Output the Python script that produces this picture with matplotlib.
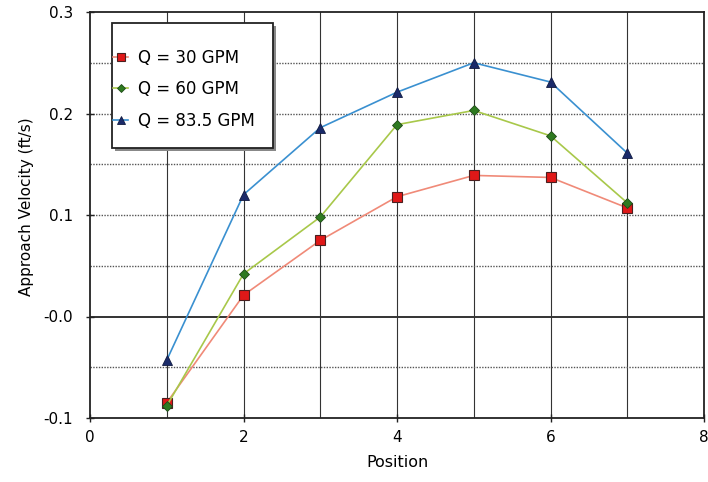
import matplotlib
matplotlib.use("Agg")
import matplotlib.pyplot as plt
from matplotlib.ticker import FixedLocator
from matplotlib.patches import Rectangle

plt.rcParams['font.family'] = ['DejaVu Sans']

positions = [1, 2, 3, 4, 5, 6, 7]
q30 = [-0.085, 0.021, 0.075, 0.118, 0.139, 0.137, 0.107]
q60 = [-0.088, 0.042, 0.098, 0.189, 0.203, 0.178, 0.112]
q835 = [-0.043, 0.120, 0.186, 0.221, 0.250, 0.231, 0.161]
labels = ["Q = 30 GPM", "Q = 60 GPM", "Q = 83.5 GPM"]
xticks = [0, 2, 4, 6, 8]
yticks = [-0.1, 0.0, 0.1, 0.2, 0.3]
ytick_labels = ["-0.1", "-0.0", "0.1", "0.2", "0.3"]

W, H = 708, 482
fig = plt.figure(figsize=(W / 100, H / 100), dpi=100)
L, R, T, B = 90, 704, 12, 418
ax = fig.add_axes([L / W, (H - B) / H, (R - L) / W, (B - T) / H])

def ax_x(px):
    return (px - L) / (R - L)

def ax_y(py):
    return (B - py) / (B - T)

ax.set_xlim(0, 8)
ax.set_ylim(-0.1, 0.3)

# grid
for x in range(1, 8):
    ax.axvline(x, color='#333333', lw=0.8, zorder=1)
for i in range(-1, 6):
    y = i * 0.05
    if abs(y) < 1e-9:
        continue
    ax.axhline(y, color='#555555', lw=1.0, ls=(0, (1, 1)), zorder=1)
ax.axhline(0, color='#333333', lw=1.4, zorder=1)

ax.plot(positions, q30, color='#f08a78', lw=1.2, marker='s', ms=7,
        mfc='#e01818', mec='#4a2020', mew=0.8, label=labels[0], zorder=3)
ax.plot(positions, q60, color='#a8c84a', lw=1.2, marker='D', ms=5,
        mfc='#2e7a20', mec='#1e4a18', mew=0.6, label=labels[1], zorder=3)
ax.plot(positions, q835, color='#3a90d0', lw=1.2, marker='^', ms=7,
        mfc='#1a2a6a', mec='#101a40', mew=0.6, label=labels[2], zorder=3)

ax.xaxis.set_major_locator(FixedLocator(xticks))
ax.yaxis.set_major_locator(FixedLocator(yticks))
ax.set_yticklabels(ytick_labels)
ax.tick_params(axis='both', direction='inout', length=6, width=1.0,
               labelsize=11, color='#222222', pad=6)
ax.tick_params(axis='y', pad=9)
for s in ax.spines.values():
    s.set_color('#222222')
    s.set_linewidth(1.3)

ax.set_xlabel("Position", fontsize=11.5)
ax.set_ylabel("Approach Velocity (ft/s)", fontsize=11)
ax.xaxis.set_label_coords(0.5, ax_y(455))
ax.yaxis.set_label_coords(ax_x(34), ax_y(207))

# legend box (frame drawn separately) with a small shadow
bx0, bx1, by0, by1 = 112, 273, 23, 148
ax.add_patch(Rectangle((ax_x(bx0 + 3), ax_y(by1 + 3)), ax_x(bx1) - ax_x(bx0),
                       ax_y(by0) - ax_y(by1), transform=ax.transAxes,
                       facecolor='#888888', edgecolor='none', zorder=4))
ax.add_patch(Rectangle((ax_x(bx0), ax_y(by1)), ax_x(bx1) - ax_x(bx0),
                       ax_y(by0) - ax_y(by1), transform=ax.transAxes,
                       facecolor='white', edgecolor='#222222', lw=1.3, zorder=4))

leg = ax.legend(loc='upper left', bbox_to_anchor=(ax_x(113), ax_y(49)),
                frameon=False, fontsize=12, handlelength=0.9,
                handletextpad=0.6, labelspacing=0.8, borderpad=0,
                borderaxespad=0, markerscale=0.75)
leg.set_zorder(5)

fig.savefig("out.png", dpi=100)
